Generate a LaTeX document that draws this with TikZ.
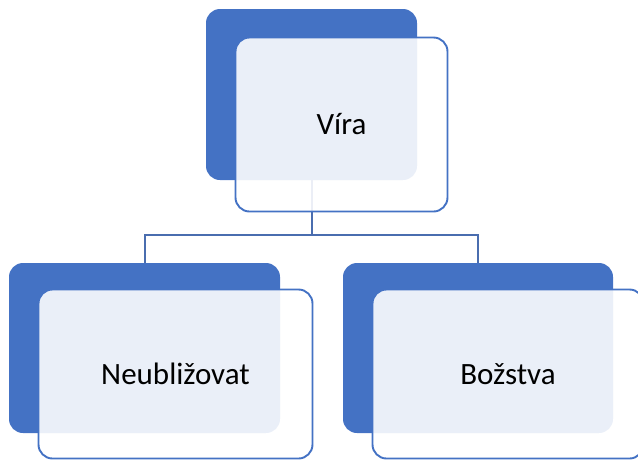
\documentclass[tikz,border=0pt]{standalone}
\usepackage{fontspec}
\setmainfont{Carlito}
\begin{document}
\begin{tikzpicture}[x=1pt, y=-1pt,
  backbox/.style={fill=accentblue, rounded corners=14pt, inner sep=0pt, outer sep=0pt},
  frontbox/.style={draw=accentblue, line width=1.9pt, fill=white, fill opacity=0.89, text opacity=1,
    rounded corners=14pt, inner sep=0pt, outer sep=0pt, font=\fontsize{31}{36}\selectfont},
  conn/.style={draw=linkblue, line width=2pt}]
\definecolor{accentblue}{HTML}{4472C4}
\definecolor{linkblue}{HTML}{4A6DAF}
\useasboundingbox (0,0) rectangle (638,459);
\clip (0,0) rectangle (638,459);
% back tiles
\node[backbox, minimum width=211pt, minimum height=171pt] (viraback) at (311.5,94.5) {};
\node[backbox, minimum width=271pt, minimum height=170pt] (neuback) at (144.5,348) {};
\node[backbox, minimum width=270pt, minimum height=170pt] (bozback) at (478,348) {};
% connectors
\draw[conn] (viraback.south) -- ++(0,55) coordinate (bus) -| (neuback.north);
\draw[conn] (bus) -| (bozback.north);
% front tiles
\node[frontbox, minimum width=212pt, minimum height=174pt] (vira) at (341.5,124.5) {Víra};
\node[frontbox, minimum width=274pt, minimum height=169pt] (neu) at (175.5,374) {Neubližovat};
\node[frontbox, minimum width=271pt, minimum height=169pt] (boz) at (508,374) {Božstva};
\end{tikzpicture}
\end{document}
